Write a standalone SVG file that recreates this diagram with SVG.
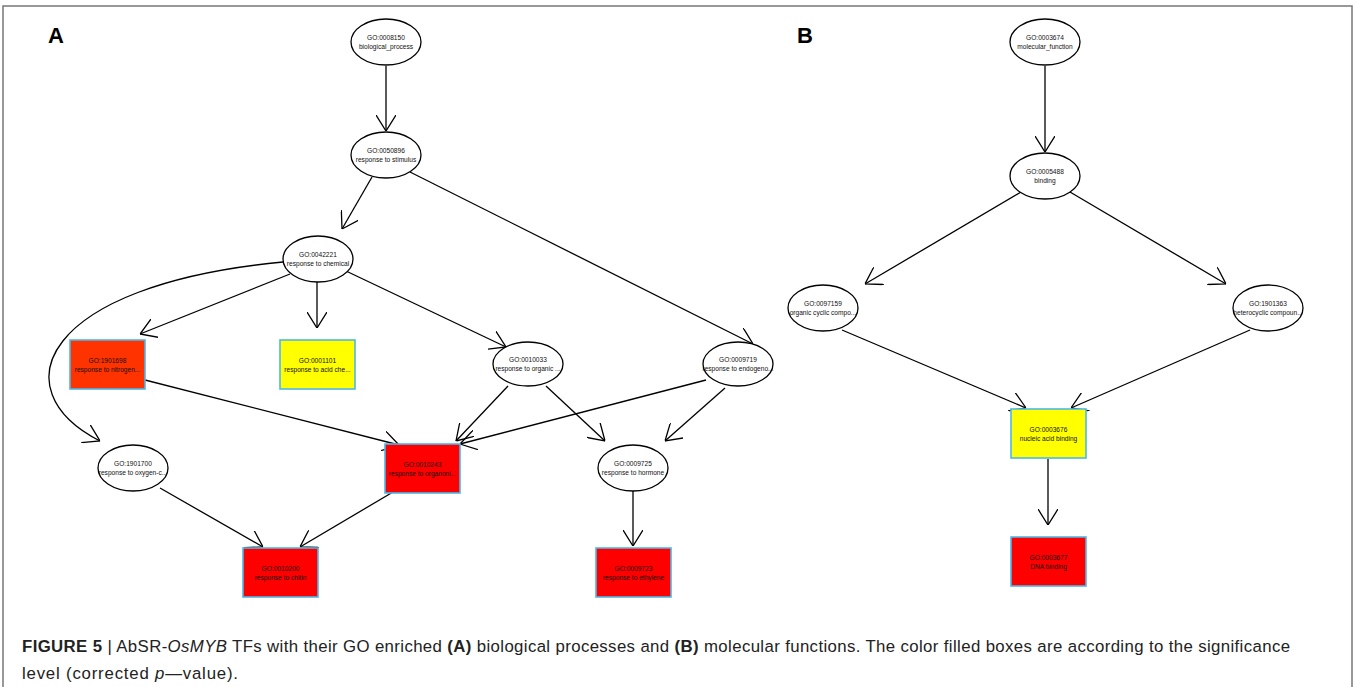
<svg xmlns="http://www.w3.org/2000/svg" width="1356" height="687" viewBox="0 0 1356 687">
<defs>
<marker id="ah" viewBox="0 0 16 20" refX="16" refY="10" markerWidth="16" markerHeight="20" markerUnits="userSpaceOnUse" orient="auto">
<path d="M0,0 L16,10 L0,20" fill="none" stroke="#000" stroke-width="1.3"/>
</marker>
<style>
.e{fill:#fff;stroke:#000;stroke-width:1.3}
.r{stroke:#4cb8e8;stroke-width:1.6}
.red{fill:#ff0000}
.ora{fill:#ff3300}
.yel{fill:#ffff00}
.t{font-family:"Liberation Sans",Arial,sans-serif;font-size:6.6px;fill:#111;text-anchor:middle}
.c line,.c path{stroke:#000;stroke-width:1.3;fill:none;marker-end:url(#ah)}
.lab{font-family:"Liberation Sans",Arial,sans-serif;font-size:22px;font-weight:bold;fill:#000}
.cap{font-family:"Liberation Sans",Arial,sans-serif;font-size:16.8px;fill:#222}
</style>
</defs>
<rect x="0" y="0" width="1356" height="687" fill="#fff"/>
<path d="M3,690 L3,6 L1352,6 L1352,690" fill="none" stroke="#777" stroke-width="1.5"/>
<text class="lab" x="48" y="43">A</text>
<text class="lab" x="797" y="43">B</text>

<g id="connectors" class="c">
<line x1="386" y1="66" x2="386" y2="131"/>
<line x1="372" y1="177" x2="342" y2="229"/>
<line x1="410" y1="172" x2="753" y2="344"/>
<line x1="290" y1="274" x2="140" y2="334"/>
<line x1="317" y1="282" x2="317" y2="328"/>
<line x1="346" y1="271" x2="506" y2="347"/>
<path d="M283,262 C40,285 0,390 100,441"/>
<line x1="145" y1="380" x2="399" y2="445"/>
<line x1="508" y1="386" x2="456" y2="441"/>
<line x1="546" y1="386" x2="605" y2="441"/>
<line x1="706" y1="380" x2="460" y2="444"/>
<line x1="725" y1="388" x2="665" y2="441"/>
<line x1="160" y1="488" x2="263" y2="547"/>
<line x1="393" y1="492" x2="300" y2="547"/>
<line x1="633" y1="490" x2="633" y2="546"/>
<line x1="1045" y1="66" x2="1045" y2="152"/>
<line x1="1021" y1="192" x2="865" y2="284"/>
<line x1="1070" y1="192" x2="1226" y2="284"/>
<line x1="842" y1="330" x2="1026" y2="408"/>
<line x1="1250" y1="330" x2="1071" y2="408"/>
<line x1="1048" y1="459" x2="1048" y2="525"/>
</g>

<g id="n0008150"><ellipse class="e" cx="386" cy="42" rx="35" ry="23"/><text class="t" x="386" y="40">GO:0008150</text><text class="t" x="386" y="49">biological_process</text></g>
<g id="n0050896"><ellipse class="e" cx="386" cy="155" rx="35" ry="23"/><text class="t" x="386" y="153">GO:0050896</text><text class="t" x="386" y="162">response to stimulus</text></g>
<g id="n0042221"><ellipse class="e" cx="318" cy="259" rx="35" ry="23"/><text class="t" x="318" y="257">GO:0042221</text><text class="t" x="318" y="266">response to chemical</text></g>
<g id="n1901698"><rect class="r ora" x="70" y="340" width="75" height="49"/><text class="t" x="107.5" y="363">GO:1901698</text><text class="t" x="107.5" y="372">response to nitrogen...</text></g>
<g id="n0001101"><rect class="r yel" x="280" y="340" width="75" height="49"/><text class="t" x="317.5" y="363">GO:0001101</text><text class="t" x="317.5" y="372">response to acid che...</text></g>
<g id="n0010033"><ellipse class="e" cx="528" cy="364" rx="35" ry="22"/><text class="t" x="528" y="362">GO:0010033</text><text class="t" x="528" y="371">response to organic ...</text></g>
<g id="n0009719"><ellipse class="e" cx="738" cy="364" rx="35" ry="22"/><text class="t" x="738" y="362">GO:0009719</text><text class="t" x="738" y="371">response to endogeno...</text></g>
<g id="n1901700"><ellipse class="e" cx="133" cy="468" rx="35" ry="23"/><text class="t" x="133" y="466">GO:1901700</text><text class="t" x="133" y="475">response to oxygen-c...</text></g>
<g id="n0010243"><rect class="r red" x="385" y="444" width="75" height="49"/><text class="t" x="422.5" y="467">GO:0010243</text><text class="t" x="422.5" y="476">response to organoni...</text></g>
<g id="n0009725"><ellipse class="e" cx="633" cy="468" rx="35" ry="23"/><text class="t" x="633" y="466">GO:0009725</text><text class="t" x="633" y="475">response to hormone</text></g>
<g id="n0010200"><rect class="r red" x="243" y="548" width="75" height="49"/><text class="t" x="280.5" y="571">GO:0010200</text><text class="t" x="280.5" y="580">response to chitin</text></g>
<g id="n0009723"><rect class="r red" x="596" y="548" width="75" height="49"/><text class="t" x="633.5" y="571">GO:0009723</text><text class="t" x="633.5" y="580">response to ethylene</text></g>

<g id="n0003674"><ellipse class="e" cx="1045" cy="42" rx="35" ry="23"/><text class="t" x="1045" y="40">GO:0003674</text><text class="t" x="1045" y="49">molecular_function</text></g>
<g id="n0005488"><ellipse class="e" cx="1045" cy="176" rx="35" ry="23"/><text class="t" x="1045" y="174">GO:0005488</text><text class="t" x="1045" y="183">binding</text></g>
<g id="n0097159"><ellipse class="e" cx="823" cy="308" rx="35" ry="23"/><text class="t" x="823" y="306">GO:0097159</text><text class="t" x="823" y="315">organic cyclic compo...</text></g>
<g id="n1901363"><ellipse class="e" cx="1268" cy="308" rx="35" ry="23"/><text class="t" x="1268" y="306">GO:1901363</text><text class="t" x="1268" y="315">heterocyclic compoun...</text></g>
<g id="n0003676"><rect class="r yel" x="1011" y="409" width="75" height="49"/><text class="t" x="1048.5" y="432">GO:0003676</text><text class="t" x="1048.5" y="441">nucleic acid binding</text></g>
<g id="n0003677"><rect class="r red" x="1011" y="537" width="75" height="49"/><text class="t" x="1048.5" y="560">GO:0003677</text><text class="t" x="1048.5" y="569">DNA binding</text></g>

<g id="caption">
<text class="cap" x="22" y="652" textLength="1268" lengthAdjust="spacing"><tspan font-weight="bold">FIGURE 5</tspan> | AbSR-<tspan font-style="italic">OsMYB</tspan> TFs with their GO enriched <tspan font-weight="bold">(A)</tspan> biological processes and <tspan font-weight="bold">(B)</tspan> molecular functions. The color filled boxes are according to the significance</text>
<text class="cap" x="22" y="679" textLength="216" lengthAdjust="spacing">level (corrected <tspan font-style="italic">p</tspan>—value).</text>
</g>
</svg>
